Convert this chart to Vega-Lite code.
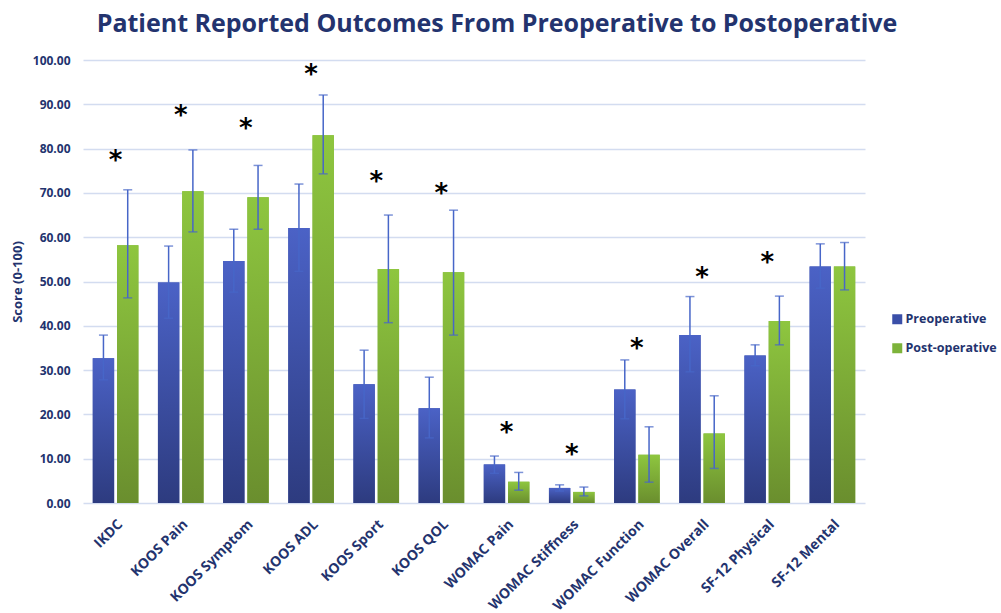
{
  "$schema": "https://vega.github.io/schema/vega-lite/v6.json",
  "autosize": {"type": "none"},
  "width": 782,
  "height": 443,
  "padding": {"left": 83, "top": 60, "right": 136, "bottom": 110},
  "background": "white",
  "title": {
    "text": "Patient Reported Outcomes From Preoperative to Postoperative",
    "font": "Open Sans",
    "fontSize": 25,
    "fontWeight": "bold",
    "color": "#23336e",
    "anchor": "middle",
    "dx": 23,
    "offset": 17
  },
  "config": {
    "view": {"stroke": null},
    "font": "Open Sans"
  },
  "datasets": {
    "scores": [
      {"measure": "IKDC", "series": "Preoperative", "value": 32.7, "lo": 27.8, "hi": 37.9},
      {"measure": "IKDC", "series": "Post-operative", "value": 58.2, "lo": 46.3, "hi": 70.7},
      {"measure": "KOOS Pain", "series": "Preoperative", "value": 49.8, "lo": 41.7, "hi": 58.0},
      {"measure": "KOOS Pain", "series": "Post-operative", "value": 70.4, "lo": 61.2, "hi": 79.7},
      {"measure": "KOOS Symptom", "series": "Preoperative", "value": 54.6, "lo": 47.6, "hi": 61.8},
      {"measure": "KOOS Symptom", "series": "Post-operative", "value": 69.0, "lo": 61.8, "hi": 76.2},
      {"measure": "KOOS ADL", "series": "Preoperative", "value": 62.1, "lo": 52.3, "hi": 72.0},
      {"measure": "KOOS ADL", "series": "Post-operative", "value": 83.0, "lo": 74.3, "hi": 92.1},
      {"measure": "KOOS Sport", "series": "Preoperative", "value": 26.8, "lo": 19.1, "hi": 34.5},
      {"measure": "KOOS Sport", "series": "Post-operative", "value": 52.8, "lo": 40.7, "hi": 65.0},
      {"measure": "KOOS QOL", "series": "Preoperative", "value": 21.4, "lo": 14.7, "hi": 28.4},
      {"measure": "KOOS QOL", "series": "Post-operative", "value": 52.1, "lo": 37.9, "hi": 66.1},
      {"measure": "WOMAC Pain", "series": "Preoperative", "value": 8.7, "lo": 6.7, "hi": 10.6},
      {"measure": "WOMAC Pain", "series": "Post-operative", "value": 4.8, "lo": 2.9, "hi": 6.9},
      {"measure": "WOMAC Stiffness", "series": "Preoperative", "value": 3.4, "lo": 2.7, "hi": 4.1},
      {"measure": "WOMAC Stiffness", "series": "Post-operative", "value": 2.5, "lo": 1.6, "hi": 3.6},
      {"measure": "WOMAC Function", "series": "Preoperative", "value": 25.6, "lo": 19.0, "hi": 32.3},
      {"measure": "WOMAC Function", "series": "Post-operative", "value": 10.9, "lo": 4.7, "hi": 17.2},
      {"measure": "WOMAC Overall", "series": "Preoperative", "value": 37.9, "lo": 29.6, "hi": 46.6},
      {"measure": "WOMAC Overall", "series": "Post-operative", "value": 15.7, "lo": 7.8, "hi": 24.2},
      {"measure": "SF-12 Physical", "series": "Preoperative", "value": 33.3, "lo": 31.0, "hi": 35.7},
      {"measure": "SF-12 Physical", "series": "Post-operative", "value": 41.1, "lo": 35.7, "hi": 46.7},
      {"measure": "SF-12 Mental", "series": "Preoperative", "value": 53.4, "lo": 48.5, "hi": 58.5},
      {"measure": "SF-12 Mental", "series": "Post-operative", "value": 53.4, "lo": 48.1, "hi": 58.8}
    ],
    "stars": [
      {"measure": "IKDC", "y": 78.6},
      {"measure": "KOOS Pain", "y": 88.7},
      {"measure": "KOOS Symptom", "y": 85.7},
      {"measure": "KOOS ADL", "y": 97.9},
      {"measure": "KOOS Sport", "y": 73.8},
      {"measure": "KOOS QOL", "y": 71.0},
      {"measure": "WOMAC Pain", "y": 17.2},
      {"measure": "WOMAC Stiffness", "y": 12.2},
      {"measure": "WOMAC Function", "y": 36.2},
      {"measure": "WOMAC Overall", "y": 52.2},
      {"measure": "SF-12 Physical", "y": 55.6}
    ]
  },
  "encoding": {
    "x": {
      "field": "measure",
      "type": "nominal",
      "scale": {
        "domain": ["IKDC", "KOOS Pain", "KOOS Symptom", "KOOS ADL", "KOOS Sport", "KOOS QOL", "WOMAC Pain", "WOMAC Stiffness", "WOMAC Function", "WOMAC Overall", "SF-12 Physical", "SF-12 Mental"],
        "paddingInner": 0.3,
        "paddingOuter": 0.15
      },
      "axis": {
        "title": null,
        "labelAngle": -45,
        "labelFont": "Open Sans",
        "labelFontSize": 14,
        "labelFontWeight": "bold",
        "labelColor": "#23336e",
        "labelPadding": 14,
        "ticks": false,
        "domain": false
      }
    }
  },
  "layer": [
    {
      "data": {"name": "scores"},
      "mark": {"type": "bar"},
      "encoding": {
        "xOffset": {"field": "series", "type": "nominal", "scale": {"domain": ["Preoperative", "Post-operative"], "paddingInner": 0.12}},
        "y": {
          "field": "value",
          "type": "quantitative",
          "scale": {"domain": [0, 100]},
          "axis": {
            "title": "Score (0-100)",
            "titleFont": "Open Sans",
            "titleFontSize": 13,
            "titleFontWeight": "bold",
            "titleColor": "#23336e",
            "titlePadding": 8,
            "values": [0, 10, 20, 30, 40, 50, 60, 70, 80, 90, 100],
            "format": ".2f",
            "labelFont": "Open Sans",
            "labelFontSize": 12,
            "labelFontWeight": "bold",
            "labelColor": "#23336e",
            "labelPadding": 13,
            "ticks": false,
            "domain": false,
            "grid": true,
            "gridColor": "#d3dcf0",
            "gridWidth": 1.3
          }
        },
        "color": {
          "field": "series",
          "type": "nominal",
          "scale": {"domain": ["Preoperative", "Post-operative"], "range": ["#3a4fa8", "#7db33a"]},
          "legend": {
            "title": null,
            "orient": "none",
            "legendX": 808,
            "legendY": 253,
            "symbolType": "square",
            "symbolSize": 100,
            "symbolStrokeWidth": 0,
            "labelFont": "Open Sans",
            "labelFontSize": 12.5,
            "labelFontWeight": "bold",
            "labelColor": "#23336e",
            "labelLimit": 200,
            "rowPadding": 16,
            "labelOffset": 2
          }
        }
      }
    },
    {
      "data": {"name": "scores"},
      "transform": [{"filter": "datum.series === 'Preoperative'"}],
      "mark": {
        "type": "bar",
        "color": {"gradient": "linear", "x1": 0, "y1": 0, "x2": 0, "y2": 1, "stops": [{"offset": 0, "color": "#4b62c6"}, {"offset": 1, "color": "#2d3b7f"}]}
      },
      "encoding": {
        "xOffset": {"field": "series", "type": "nominal"},
        "y": {"field": "value", "type": "quantitative"}
      }
    },
    {
      "data": {"name": "scores"},
      "transform": [{"filter": "datum.series === 'Post-operative'"}],
      "mark": {
        "type": "bar",
        "color": {"gradient": "linear", "x1": 0, "y1": 0, "x2": 0, "y2": 1, "stops": [{"offset": 0, "color": "#8ec63f"}, {"offset": 1, "color": "#6a8e2e"}]}
      },
      "encoding": {
        "xOffset": {"field": "series", "type": "nominal"},
        "y": {"field": "value", "type": "quantitative"}
      }
    },
    {
      "data": {"name": "scores"},
      "mark": {"type": "rule", "color": "#4766c8", "strokeWidth": 1.5},
      "encoding": {
        "xOffset": {"field": "series", "type": "nominal"},
        "y": {"field": "lo", "type": "quantitative"},
        "y2": {"field": "hi"}
      }
    },
    {
      "data": {"name": "scores"},
      "mark": {"type": "tick", "color": "#4766c8", "thickness": 1.5, "size": 9},
      "encoding": {
        "xOffset": {"field": "series", "type": "nominal"},
        "y": {"field": "lo", "type": "quantitative"}
      }
    },
    {
      "data": {"name": "scores"},
      "mark": {"type": "tick", "color": "#4766c8", "thickness": 1.5, "size": 9},
      "encoding": {
        "xOffset": {"field": "series", "type": "nominal"},
        "y": {"field": "hi", "type": "quantitative"}
      }
    },
    {
      "data": {"name": "stars"},
      "mark": {"type": "text", "text": "*", "fontSize": 26, "fontWeight": "bold", "font": "DejaVu Sans", "color": "#000000", "baseline": "middle", "dy": 6},
      "encoding": {
        "y": {"field": "y", "type": "quantitative"}
      }
    }
  ]
}
